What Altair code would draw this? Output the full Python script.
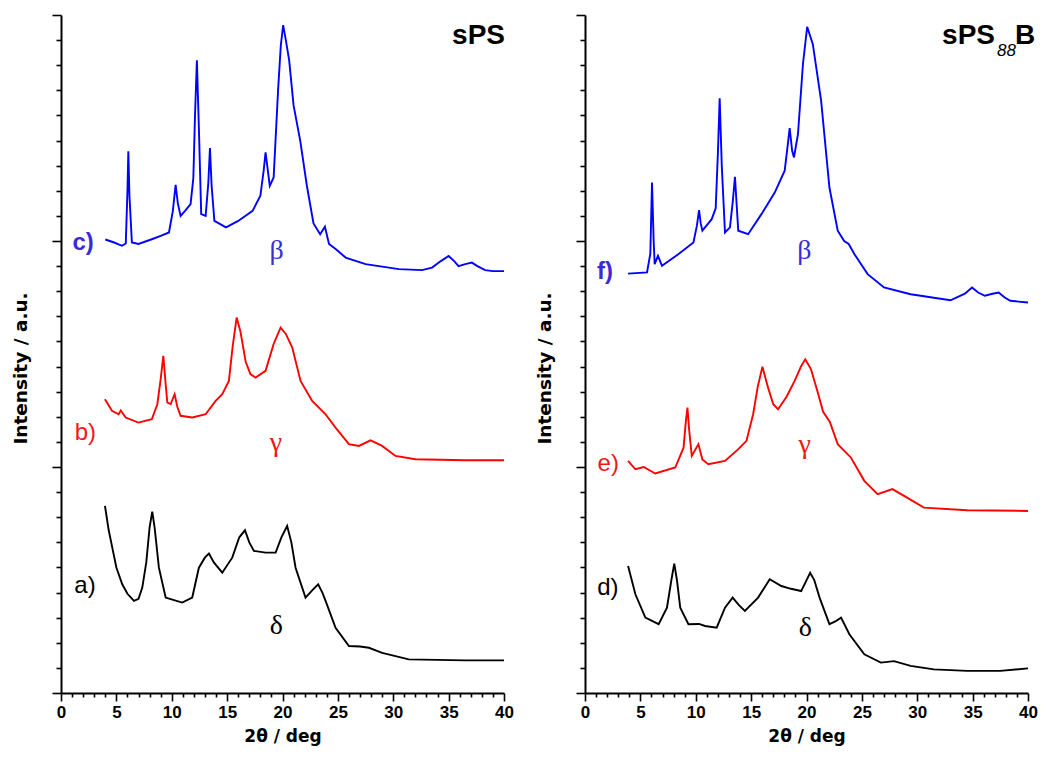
import altair as alt
import pandas as pd

# ---------------- Panel 1: sPS ----------------
sps_beta_x = [4.0, 4.8, 5.5, 5.85, 6.0, 6.08, 6.18, 6.4, 7.0, 8.2, 9.0, 9.75, 10.1, 10.35, 10.55,
              10.8, 11.2, 11.7, 11.95, 12.1, 12.27, 12.45, 12.66, 13.06, 13.3, 13.45, 13.6, 13.85,
              14.9, 16.0, 17.3, 18.0, 18.3, 18.47, 18.65, 18.85, 19.2, 19.6, 19.85, 20.06, 20.3,
              20.6, 21.0, 21.6, 22.2, 22.8, 23.4, 23.83, 24.2, 24.8, 25.7, 27.5, 30.5, 32.6, 33.5,
              34.3, 35.0, 35.5, 35.9, 36.5, 37.1, 37.6, 38.3, 39.0, 40.0]
sps_beta_y = [18.06, 17.94, 17.81, 17.9, 20.0, 21.57, 19.8, 17.94, 17.88, 18.07, 18.2, 18.34, 19.2,
              20.24, 19.5, 19.0, 19.2, 19.47, 20.5, 23.0, 25.2, 22.5, 19.07, 19.0, 20.3, 21.7, 20.2,
              18.8, 18.54, 18.8, 19.2, 19.8, 20.8, 21.53, 20.9, 20.2, 20.53, 24.0, 25.8, 26.6, 26.0,
              25.2, 23.4, 22.0, 20.2, 18.7, 18.27, 18.57, 17.88, 17.68, 17.34, 17.08, 16.88, 16.84,
              16.94, 17.2, 17.4, 17.2, 17.0, 17.08, 17.14, 17.0, 16.84, 16.8, 16.8]

sps_gamma_x = [3.97, 4.6, 5.2, 5.4, 5.84, 7.0, 8.2, 8.7, 9.0, 9.24, 9.45, 9.6, 9.9, 10.26, 10.5, 10.8,
               11.85, 13.06, 13.96, 14.56, 15.16, 15.5, 15.86, 16.2, 16.67, 17.1, 17.57, 18.47,
               19.2, 19.83, 20.3, 20.88, 21.63, 22.68, 23.89, 24.79, 26.0, 26.9, 27.95, 29.0, 30.2,
               32.0, 36.5, 40.0]
sps_gamma_y = [11.7, 11.24, 11.1, 11.25, 10.97, 10.77, 10.9, 11.5, 12.5, 13.43, 12.3, 11.57, 11.5,
               11.9, 11.4, 11.04, 10.97, 11.1, 11.63, 11.9, 12.43, 13.8, 14.95, 14.4, 13.2, 12.7,
               12.56, 12.83, 13.9, 14.55, 14.3, 13.76, 12.43, 11.63, 11.1, 10.57, 9.91, 9.84, 10.06,
               9.84, 9.44, 9.31, 9.27, 9.27]

sps_delta_x = [3.97, 4.3, 4.63, 5.0, 5.53, 6.0, 6.59, 7.0, 7.34, 7.7, 8.0, 8.24, 8.45, 8.84, 9.45,
               10.2, 10.95, 11.85, 12.45, 13.0, 13.36, 13.8, 14.56, 15.46, 16.1, 16.61, 17.0, 17.42,
               18.47, 19.38, 19.9, 20.42, 20.8, 21.18, 22.08, 22.7, 23.22, 23.6, 23.89, 24.79, 26.0,
               27.0, 27.8, 29.0, 31.4, 36.5, 40.0]
sps_delta_y = [7.45, 6.5, 5.79, 5.0, 4.33, 3.95, 3.67, 3.75, 4.2, 5.2, 6.6, 7.22, 6.6, 4.99, 3.8, 3.7,
               3.6, 3.8, 4.99, 5.4, 5.55, 5.2, 4.79, 5.39, 6.2, 6.48, 6.0, 5.66, 5.59, 5.59, 6.2, 6.65,
               6.0, 4.99, 3.8, 4.1, 4.33, 4.0, 3.67, 2.6, 1.87, 1.85, 1.8, 1.6, 1.34, 1.3, 1.3]

# ---------------- Panel 2: sPS88B ----------------
b88_beta_x = [3.89, 5.6, 5.9, 6.05, 6.2, 6.29, 6.59, 6.95, 8.45, 9.79, 10.1, 10.3, 10.45, 10.6, 11.44,
              11.8, 12.0, 12.16, 12.35, 12.64, 13.09, 13.35, 13.54, 13.7, 13.84, 14.73, 15.93, 17.13,
              18.03, 18.3, 18.48, 18.7, 18.87, 19.23, 19.68, 20.06, 20.57, 21.32, 22.07, 22.82,
              23.4, 23.81, 24.32, 25.52, 27.0, 29.4, 33.0, 34.3, 34.95, 35.5, 36.1, 36.8, 37.35,
              37.9, 38.4, 40.0]
b88_beta_y = [16.7, 16.75, 17.5, 20.33, 18.0, 17.08, 17.41, 17.01, 17.48, 17.94, 18.6, 19.23, 18.7,
              18.41, 18.87, 19.3, 21.5, 23.68, 21.0, 18.34, 18.54, 19.6, 20.56, 19.4, 18.41, 18.27,
              19.07, 19.93, 20.8, 21.8, 22.5, 21.6, 21.33, 22.26, 25.05, 26.53, 25.84, 23.59, 20.13,
              18.41, 18.0, 17.88, 17.48, 16.68, 16.15, 15.88, 15.64, 15.9, 16.15, 15.95, 15.82,
              15.9, 15.95, 15.75, 15.62, 15.55]

b88_gamma_x = [3.89, 4.55, 5.3, 6.35, 8.15, 8.9, 9.1, 9.25, 9.4, 9.64, 10.24, 10.6, 11.14, 12.64,
               13.84, 14.58, 15.18, 15.6, 16.02, 16.53, 17.0, 17.43, 18.2, 18.93, 19.5, 19.89, 20.4,
               21.0, 21.5, 22.1, 22.82, 24.02, 25.22, 26.42, 27.76, 28.81, 30.6, 34.5, 40.0]
b88_gamma_y = [9.24, 8.91, 9.0, 8.74, 8.98, 9.77, 10.8, 11.37, 10.5, 9.44, 9.91, 9.3, 9.11, 9.24,
               9.71, 10.04, 11.1, 12.2, 12.99, 12.16, 11.5, 11.3, 11.8, 12.43, 13.0, 13.29, 12.9,
               12.0, 11.2, 10.8, 9.91, 9.37, 8.45, 7.92, 8.12, 7.85, 7.38, 7.28, 7.25]

b88_delta_x = [3.89, 4.55, 5.45, 6.65, 7.4, 7.8, 8.06, 8.3, 8.6, 9.34, 10.3, 10.84, 11.89, 12.64,
               13.33, 13.9, 14.44, 15.63, 16.68, 17.73, 18.6, 19.52, 20.33, 20.7, 21.18, 22.07, 22.6,
               23.12, 23.87, 25.22, 26.71, 27.9, 29.4, 31.5, 34.5, 37.5, 40.0]
b88_delta_y = [5.06, 3.93, 3.0, 2.74, 3.4, 4.5, 5.15, 4.5, 3.4, 2.74, 2.75, 2.67, 2.6, 3.4, 3.8, 3.5,
               3.27, 3.8, 4.53, 4.26, 4.15, 4.06, 4.79, 4.5, 3.8, 2.74, 2.85, 3.0, 2.34, 1.54, 1.21,
               1.27, 1.08, 0.94, 0.88, 0.88, 0.98]

# ---------------- annotations (data units) ----------------
series_names = ["delta", "gamma", "beta"]
sps_tag_text = ["a)", "b)", "c)"]
sps_tag_x = [2.17, 2.2, 2.0]
sps_tag_y = [4.26, 10.34, 17.94]
sps_greek_text = ["δ", "γ", "β"]
sps_greek_x = [19.45, 19.4, 19.47]
sps_greek_y = [2.65, 9.97, 17.6]

b88_tag_text = ["d)", "e)", "f)"]
b88_tag_x = [2.07, 2.1, 1.8]
b88_tag_y = [4.2, 9.12, 16.77]
b88_greek_text = ["δ", "γ", "β"]
b88_greek_x = [19.9, 19.83, 19.8]
b88_greek_y = [2.6, 9.88, 17.6]

x_ticks = list(range(0, 41))
y_ticks = list(range(0, 28))

W_LEFT, W_RIGHT, H = 443, 443, 678

line_colors = alt.Scale(domain=series_names, range=["#000000", "#ff0000", "#0000ff"])
tag_colors = alt.Scale(domain=series_names, range=["#000000", "#f01818", "#3a2bd6"])


def curves_df(curves):
    rows = []
    for name, xs, ys in curves:
        for xv, yv in zip(xs, ys):
            rows.append({"x": xv, "y": yv, "series": name})
    return pd.DataFrame(rows)


def ann_df(texts, xs, ys):
    return pd.DataFrame({"text": texts, "x": xs, "y": ys, "series": series_names})


x_axis = alt.Axis(
    values=x_ticks,
    labelExpr="datum.value % 5 === 0 ? datum.label : ''",
    tickSize={"condition": {"test": "datum.value % 5 === 0", "value": 8}, "value": 4},
    title="2θ / deg",
    grid=False,
    labelOverlap=False,
    labelFlush=False,
    labelPadding=3,
    titlePadding=8,
)
y_axis = alt.Axis(
    values=y_ticks,
    labels=False,
    tickSize={"condition": {"test": "datum.value % 9 === 0", "value": 9}, "value": 5},
    title="Intensity / a.u.",
    grid=False,
    titlePadding=21,
    titleY=353,
)

X = alt.X("x:Q", scale=alt.Scale(domain=[0, 40], nice=False, zero=False), axis=x_axis)
Y = alt.Y("y:Q", scale=alt.Scale(domain=[0, 27], nice=False, zero=False), axis=y_axis)


def panel(curves, tags, greeks, title_layers, width):
    lines = alt.Chart(curves_df(curves)).mark_line(strokeWidth=1.9, clip=True).encode(
        x=X, y=Y,
        color=alt.Color("series:N", scale=line_colors, legend=None),
        detail="series:N",
    )
    tdf = ann_df(*tags)
    tag_reg = alt.Chart(tdf[tdf["series"] != "beta"]).mark_text(
        font="Liberation Sans", fontSize=24, align="center", baseline="middle"
    ).encode(x=X, y=Y, text="text:N",
             color=alt.Color("series:N", scale=tag_colors, legend=None))
    tag_bold = alt.Chart(tdf[tdf["series"] == "beta"]).mark_text(
        font="Liberation Sans", fontSize=24, fontWeight="bold", align="center", baseline="middle"
    ).encode(x=X, y=Y, text="text:N",
             color=alt.Color("series:N", scale=tag_colors, legend=None))
    greek = alt.Chart(ann_df(*greeks)).mark_text(
        font="Liberation Serif", fontSize=28, align="center", baseline="middle"
    ).encode(x=X, y=Y, text="text:N",
             color=alt.Color("series:N", scale=tag_colors, legend=None))
    layer = alt.layer(lines, tag_reg, tag_bold, greek, *title_layers).resolve_scale(color="independent")
    return layer.properties(width=width, height=H)


def title_text(text, px, py, size, align="right", italic=False, bold=True):
    kw = dict(font="Liberation Sans", fontSize=size, align=align, baseline="alphabetic",
              fontWeight="bold" if bold else "normal", color="#000000")
    if italic:
        kw["fontStyle"] = "italic"
    return alt.Chart(pd.DataFrame({"t": [text]})).mark_text(**kw).encode(
        text="t:N", x=alt.value(px), y=alt.value(py))


left = panel(
    [("delta", sps_delta_x, sps_delta_y), ("gamma", sps_gamma_x, sps_gamma_y), ("beta", sps_beta_x, sps_beta_y)],
    (sps_tag_text, sps_tag_x, sps_tag_y),
    (sps_greek_text, sps_greek_x, sps_greek_y),
    [title_text("sPS", 444, 29, 28)],
    W_LEFT,
)
right = panel(
    [("delta", b88_delta_x, b88_delta_y), ("gamma", b88_gamma_x, b88_gamma_y), ("beta", b88_beta_x, b88_beta_y)],
    (b88_tag_text, b88_tag_x, b88_tag_y),
    (b88_greek_text, b88_greek_x, b88_greek_y),
    [title_text("sPS", 410, 29, 28),
     title_text("88", 412, 41, 17, align="left", italic=True, bold=False),
     title_text("B", 430, 29, 28, align="left")],
    W_RIGHT,
)

chart = alt.hconcat(left, right, spacing=21).configure(
    padding={"left": 3, "top": 6, "right": 0, "bottom": 6}
).configure_view(stroke=None).configure_axis(
    domainColor="#000000", domainWidth=2, tickColor="#000000", tickWidth=1.6,
    labelFont="Liberation Sans", labelFontWeight="bold", labelFontSize=17, labelColor="#000000",
    titleFont="DejaVu Sans", titleFontWeight="bold", titleFontSize=17, titleColor="#000000",
).configure_axisY(titleFontSize=18.5)

chart.save("out.html", embed_options={"renderer": "svg", "actions": False})
